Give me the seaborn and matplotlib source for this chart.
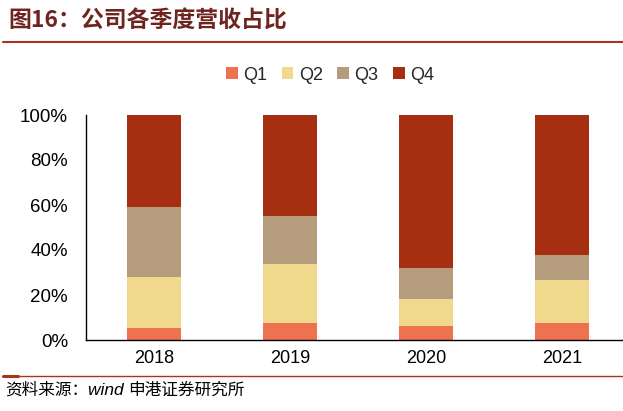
import numpy as np
import pandas as pd
import matplotlib
matplotlib.use("Agg")
import matplotlib.pyplot as plt
from matplotlib.patches import Patch
from matplotlib.lines import Line2D
import seaborn as sns

years = ["2018", "2019", "2020", "2021"]
quarters = ["Q1", "Q2", "Q3", "Q4"]
q1 = [5.5, 7.6, 6.4, 7.6]
q2 = [22.7, 26.0, 11.9, 19.1]
q3 = [30.8, 21.4, 13.5, 11.3]
q4 = [41.0, 45.0, 68.2, 62.0]
colors = ["#EE7150", "#F0D98C", "#B49C7D", "#A52F10"]
yticks = [0, 20, 40, 60, 80, 100]
ytick_labels = ["0%", "20%", "40%", "60%", "80%", "100%"]

sns.set_theme(style="white")
plt.rcParams['font.family'] = ['Liberation Sans', 'Noto Sans CJK SC', 'DejaVu Sans']

W, H = 623, 411
fig = plt.figure(figsize=(W / 100, H / 100), dpi=100)
ax_left, ax_right, ax_top, ax_bot = 86, 623, 115, 340
ax = fig.add_axes([ax_left / W, 1 - ax_bot / H, (ax_right - ax_left) / W, (ax_bot - ax_top) / H])

series = [q1, q2, q3, q4]
cum = np.cumsum(np.array(series), axis=0)
df = pd.DataFrame({"year": years})
for i in range(3, -1, -1):
    df["v"] = cum[i]
    sns.barplot(data=df, x="year", y="v", color=colors[i], width=0.4,
                saturation=1, ax=ax, edgecolor="none", linewidth=0)

spacing = 136.0
ax.set_xlim(-0.5, -0.5 + (ax_right - ax_left) / spacing)
ax.set_ylim(0, 100)
ax.set_yticks(yticks)
ax.set_yticklabels(ytick_labels)
ax.set_xticks(range(len(years)))
ax.set_xticklabels(years)
ax.set_xlabel("")
ax.set_ylabel("")
for s in ["top", "right"]:
    ax.spines[s].set_visible(False)
for s in ["left", "bottom"]:
    ax.spines[s].set_color("#000000")
    ax.spines[s].set_linewidth(1.0)
ax.tick_params(axis="x", labelsize=13, colors="#000000", length=0, pad=7)
ax.tick_params(axis="y", labelsize=13.5, colors="#000000", pad=13)
ax.set_xticks([0.5, 1.5, 2.5], minor=True)
ax.tick_params(axis="x", which="minor", direction="in", length=4, width=1, color="#000000")
ax.tick_params(axis="y", which="major", direction="in", length=4, width=1, color="#000000")
ax.grid(False)

handles = [Patch(facecolor=c, edgecolor="none", label=q) for c, q in zip(colors, quarters)]
fig.legend(handles=handles, loc="center", bbox_to_anchor=(330 / W, 1 - 75 / H), ncol=4,
           frameon=False, fontsize=13, handlelength=0.65, handleheight=0.65,
           handletextpad=0.3, columnspacing=0.8)

fig.text(8 / W, 1 - 21 / H, "图16：公司各季度营收占比", fontsize=16.5, fontweight="bold",
         color="#6E2520", ha="left", va="center",
         family=["Noto Sans CJK SC", "DejaVu Sans"])
fig.add_artist(Line2D([3 / W, 1], [1 - 42 / H, 1 - 42 / H], color="#A8341A", linewidth=1.5))
fig.add_artist(Line2D([3 / W, 1], [1 - 376 / H, 1 - 376 / H], color="#A8341A", linewidth=1.0))
fig.add_artist(Line2D([3 / W, 18 / W], [1 - 375.5 / H, 1 - 375.5 / H], color="#A8341A", linewidth=2.2))

src_y = 1 - 390 / H
t1 = fig.text(5 / W, src_y, "资料来源：", fontsize=12, color="#000000",
              ha="left", va="center", family=["Noto Sans CJK SC", "DejaVu Sans"])
fig.canvas.draw()
r = fig.canvas.get_renderer()
bb = t1.get_window_extent(r)
t2 = fig.text(bb.x1 / W, src_y, "wind ", fontsize=12.5, color="#000000", style="italic",
              ha="left", va="center", family=["Liberation Sans", "DejaVu Sans"])
bb2 = t2.get_window_extent(r)
fig.text(bb2.x1 / W, src_y, "申港证券研究所", fontsize=12, color="#000000",
         ha="left", va="center", family=["Noto Sans CJK SC", "DejaVu Sans"])

fig.savefig("out.png", dpi=100)
